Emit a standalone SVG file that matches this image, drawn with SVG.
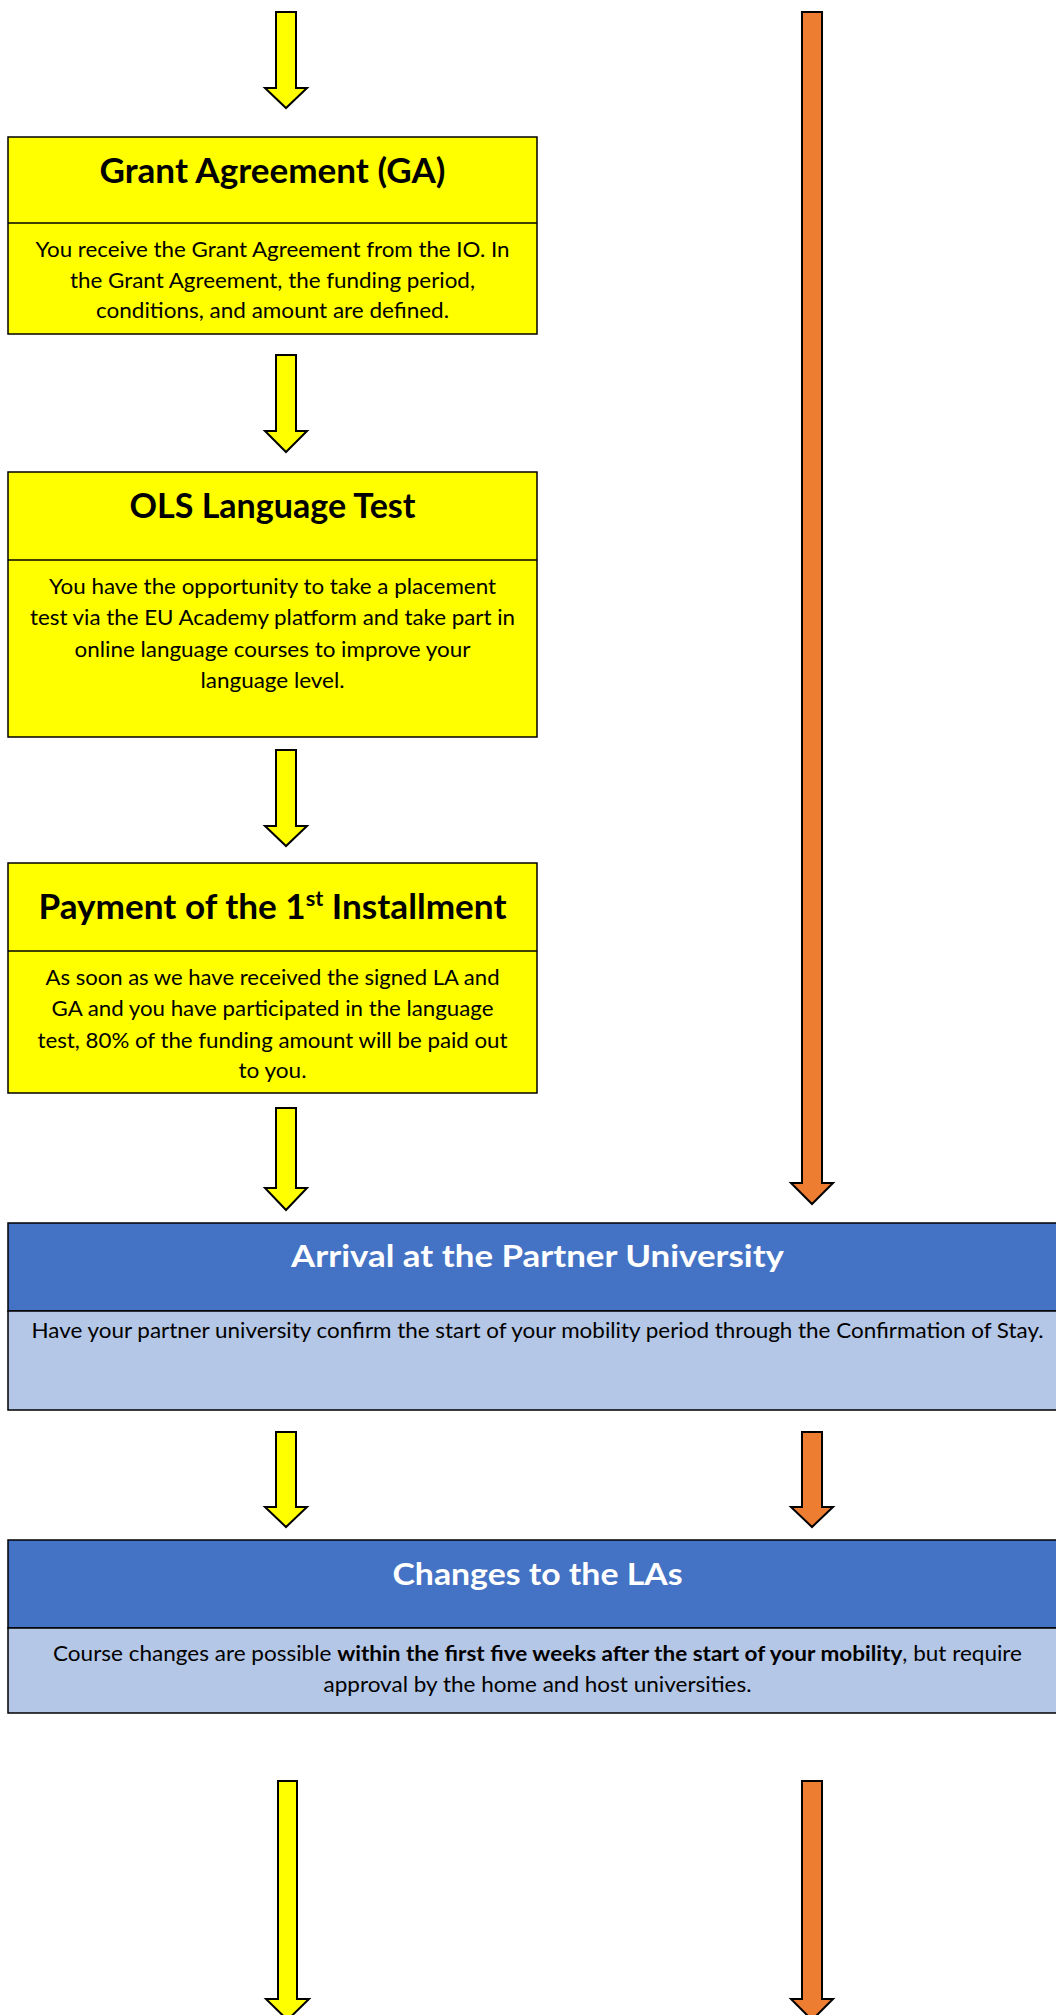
<svg xmlns="http://www.w3.org/2000/svg" width="1056" height="2015" viewBox="0 0 1056 2015">
<style>
.bg{fill:#ffffff}
.ya{fill:#FFFF00;stroke:#000;stroke-width:2;stroke-linejoin:miter}
.oa{fill:#ED7D31;stroke:#000;stroke-width:2;stroke-linejoin:miter}
.yb{fill:#FFFF00;stroke:#000;stroke-width:1.5}
.bh{fill:#4472C4;stroke:#000;stroke-width:1.5}
.bb{fill:#B4C7E7;stroke:#000;stroke-width:1.5}
.t{font-family:Lato,"Liberation Sans",sans-serif;font-weight:bold;text-anchor:middle;fill:#000}
.tw{font-family:Lato,"Liberation Sans",sans-serif;font-weight:bold;text-anchor:middle;fill:#fff}
.b{font-family:Lato,"Liberation Sans",sans-serif;font-size:21.5px;text-anchor:middle;fill:#000}
</style>
<rect class="bg" x="0" y="0" width="1056" height="2015"/>
<g id="connectors">
<path class="ya" d="M276,12 H296 V88 H307 L286,108 L265,88 H276 Z"/>
<path class="oa" d="M802,12 H822 V1183 H833 L812,1204 L791,1183 H802 Z"/>
<path class="ya" d="M276,355 H296 V431 H307 L286,452 L265,431 H276 Z"/>
<path class="ya" d="M276,750 H296 V826 H307 L286,846 L265,826 H276 Z"/>
<path class="ya" d="M276,1108 H296 V1188 H307 L286,1210 L265,1188 H276 Z"/>
<path class="ya" d="M276,1432 H296 V1507 H307 L286,1527 L265,1507 H276 Z"/>
<path class="oa" d="M802,1432 H822 V1507 H833 L812,1527 L791,1507 H802 Z"/>
<path class="ya" d="M278,1781 H297 V1999 H309 L287.5,2020 L266,1999 H278 Z"/>
<path class="oa" d="M802,1781 H822 V1999 H833 L812,2020 L791,1999 H802 Z"/>
</g>
<g id="grant-agreement">
<rect class="yb" x="8" y="137" width="529" height="197"/>
<line x1="8" y1="223" x2="537" y2="223" stroke="#000" stroke-width="1.5"/>
<text class="t" x="272.5" y="183" font-size="34" textLength="346" lengthAdjust="spacingAndGlyphs">Grant Agreement (GA)</text>
<text class="b" x="272.5" y="257" textLength="474" lengthAdjust="spacingAndGlyphs">You receive the Grant Agreement from the IO. In</text>
<text class="b" x="272.5" y="288" textLength="405" lengthAdjust="spacingAndGlyphs">the Grant Agreement, the funding period,</text>
<text class="b" x="272.5" y="318" textLength="353" lengthAdjust="spacingAndGlyphs">conditions, and amount are defined.</text>
</g>
<g id="ols-language-test">
<rect class="yb" x="8" y="472" width="529" height="265"/>
<line x1="8" y1="560" x2="537" y2="560" stroke="#000" stroke-width="1.5"/>
<text class="t" x="272.5" y="518" font-size="34" textLength="286" lengthAdjust="spacingAndGlyphs">OLS Language Test</text>
<text class="b" x="272.5" y="594" textLength="447" lengthAdjust="spacingAndGlyphs">You have the opportunity to take a placement</text>
<text class="b" x="272.5" y="625" textLength="485" lengthAdjust="spacingAndGlyphs">test via the EU Academy platform and take part in</text>
<text class="b" x="272.5" y="657" textLength="396" lengthAdjust="spacingAndGlyphs">online language courses to improve your</text>
<text class="b" x="272.5" y="688" textLength="144" lengthAdjust="spacingAndGlyphs">language level.</text>
</g>
<g id="payment-1st-installment">
<rect class="yb" x="8" y="863" width="529" height="230"/>
<line x1="8" y1="951" x2="537" y2="951" stroke="#000" stroke-width="1.5"/>
<text class="t" x="272.5" y="919" font-size="34" textLength="468" lengthAdjust="spacingAndGlyphs">Payment of the 1<tspan font-size="21" dy="-13">st</tspan><tspan dy="13"> Installment</tspan></text>
<text class="b" x="272.5" y="985" textLength="454" lengthAdjust="spacingAndGlyphs">As soon as we have received the signed LA and</text>
<text class="b" x="272.5" y="1016" textLength="442" lengthAdjust="spacingAndGlyphs">GA and you have participated in the language</text>
<text class="b" x="272.5" y="1048" textLength="470" lengthAdjust="spacingAndGlyphs">test, 80% of the funding amount will be paid out</text>
<text class="b" x="272.5" y="1078" textLength="68" lengthAdjust="spacingAndGlyphs">to you.</text>
</g>
<g id="arrival-partner-university">
<rect class="bh" x="8" y="1223" width="1059" height="88"/>
<rect class="bb" x="8" y="1311" width="1059" height="99"/>
<text class="tw" x="537.5" y="1267" font-size="31" textLength="493" lengthAdjust="spacingAndGlyphs">Arrival at the Partner University</text>
<text class="b" x="537.5" y="1338" textLength="1012" lengthAdjust="spacingAndGlyphs">Have your partner university confirm the start of your mobility period through the Confirmation of Stay.</text>
</g>
<g id="changes-to-las">
<rect class="bh" x="8" y="1540" width="1059" height="88"/>
<rect class="bb" x="8" y="1628" width="1059" height="85"/>
<text class="tw" x="537.5" y="1585" font-size="31" textLength="290" lengthAdjust="spacingAndGlyphs">Changes to the LAs</text>
<text class="b" x="537.5" y="1661" textLength="969" lengthAdjust="spacingAndGlyphs">Course changes are possible <tspan font-weight="bold">within the first five weeks after the start of your mobility</tspan>, but require</text>
<text class="b" x="537.5" y="1692" textLength="428" lengthAdjust="spacingAndGlyphs">approval by the home and host universities.</text>
</g>
</svg>
